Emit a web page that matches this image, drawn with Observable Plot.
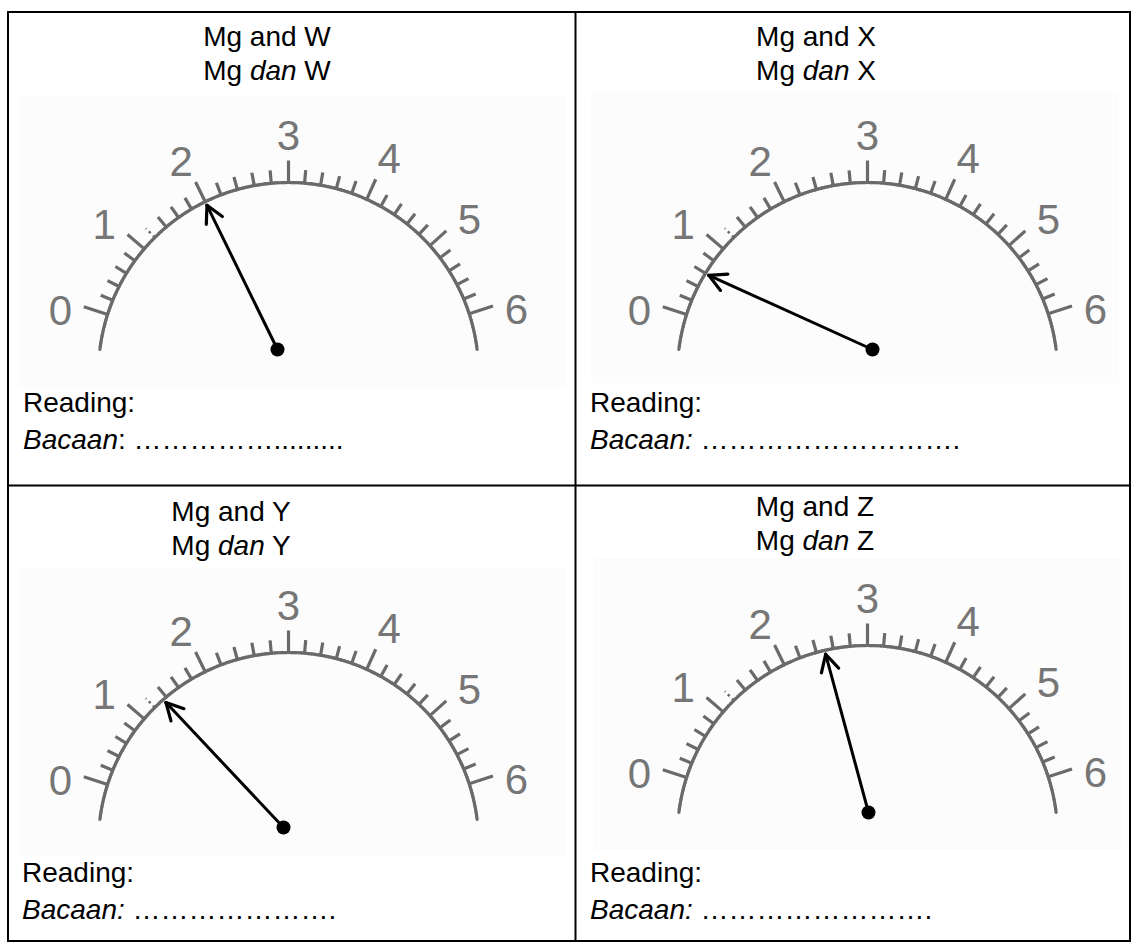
<!DOCTYPE html>
<html>
<head>
<meta charset="utf-8">
<script src="https://cdn.jsdelivr.net/npm/d3@7"></script>
<script src="https://cdn.jsdelivr.net/npm/@observablehq/plot@0.6"></script>
<style>
  html, body { margin: 0; padding: 0; background: #fff; }
  #page { position: relative; width: 1133px; height: 944px; overflow: hidden;
          font-family: "Liberation Sans", Arial, Helvetica, sans-serif; }
  #page svg { position: absolute; left: 0; top: 0; }
  .t { position: absolute; font-size: 28px; line-height: 36px; white-space: nowrap; color: #000; }
  .c { transform: translateX(-50%); }
</style>
</head>
<body>
<div id="page"></div>
<script>
// ---------------- data ----------------
const metals = ["W", "X", "Y", "Z"];                 // second metal paired with Mg
const readings = [2.0, 0.6, 1.35, 2.5];              // needle position on the 0–6 scale
const scaleMarks = [0, 1, 2, 3, 4, 5, 6];            // major scale values
const scaleLabels = ["0", "1", "2", "3", "4", "5", "6"];
const leaderDots = [
  "…………….........",
  "……………………….",
  "………………….",
  "…………………….",
];
const italicColon = [false, true, true, true];

// ---------------- layout (positions, not data) ----------------
const W = 1133, H = 944;
const cells = [
  {cx: 288, cy: 372, px: 277, py: 349, tX: 267, tY: 37,  rX: 23,  rY: 403, bg: [20, 95, 565, 387]},
  {cx: 867, cy: 372, px: 872, py: 349, tX: 816, tY: 37,  rX: 590, rY: 403, bg: [591, 93, 1119, 383]},
  {cx: 288, cy: 842, px: 283, py: 827, tX: 231, tY: 512, rX: 22,  rY: 873, bg: [20, 567, 565, 856]},
  {cx: 867, cy: 835, px: 868, py: 812, tX: 815, tY: 507, rX: 590, rY: 873, bg: [593, 558, 1121, 850]},
];
const R = 190;            // arc radius
const labelR = 236;       // label radius
const tipR = 186;         // needle tip radius
// printed scale of the meter (angle in degrees for each major value)
const angleOf = d3.scaleLinear().domain(scaleMarks).range([162.2, 139.4, 116.0, 90, 65.7, 41.9, 18.0]);
const labelAngle = v => 90 + (angleOf(v) - 90) * 1.04;
const rad = Math.PI / 180;
const pt = (c, a, r) => [c.cx + r * Math.cos(a * rad), c.cy - r * Math.sin(a * rad)];

// ---------------- derived geometry ----------------
const bgs = cells.map((c, i) => ({i, x1: c.bg[0], y1: c.bg[1], x2: c.bg[2], y2: c.bg[3]}));

const arcSegs = [];
cells.forEach((c, i) => {
  for (let a = 173; a > 7; a -= 1) {
    const [x1, y1] = pt(c, a, R);
    const [x2, y2] = pt(c, a - 1, R);
    arcSegs.push({i, x1, y1, x2, y2});
  }
});

const minorStep = 0.2;
const tickVals = d3.range(0, Math.round(6 / minorStep) + 1).map(k => +(k * minorStep).toFixed(1));
const ticks = [];
cells.forEach((c, i) => {
  tickVals.forEach(v => {
    const major = Number.isInteger(v);
    const len = (v === 0 || v === 6) ? 25 : major ? 22 : 13;
    const a = angleOf(v);
    const [x1, y1] = pt(c, a, R);
    const [x2, y2] = pt(c, a, R + len);
    ticks.push({i, v, x1, y1, x2, y2, dashed: v === 1.2});
  });
});

const labels = [];
cells.forEach((c, i) => {
  scaleMarks.forEach((v, k) => {
    const [x, y] = pt(c, labelAngle(v), labelR);
    labels.push({i, x, y, text: scaleLabels[k]});
  });
});

const needles = [], arms = [], pivots = [];
cells.forEach((c, i) => {
  const [tx, ty] = pt(c, angleOf(readings[i]), tipR);
  needles.push({i, x1: c.px, y1: c.py, x2: tx, y2: ty});
  pivots.push({i, x: c.px, y: c.py});
  const ux = c.px - tx, uy = c.py - ty, L = Math.hypot(ux, uy);
  const bx = ux / L, by = uy / L, h = 28 * rad, aL = 19;
  [h, -h].forEach(t => {
    const rx = bx * Math.cos(t) - by * Math.sin(t);
    const ry = bx * Math.sin(t) + by * Math.cos(t);
    arms.push({i, x1: tx, y1: ty, x2: tx + rx * aL, y2: ty + ry * aL});
  });
});

const frame = [{x1: 8, y1: 12, x2: 1130, y2: 941}];
const vDivider = [575], hDivider = [485];

const dialGray = "#6a6a6a";
const svg = Plot.plot({
  width: W, height: H, margin: 0,
  x: {domain: [0, W], range: [0, W], axis: null},
  y: {domain: [0, H], range: [0, H], axis: null},
  style: {background: "transparent", overflow: "visible"},
  marks: [
    Plot.rect(bgs, {x1: "x1", y1: "y1", x2: "x2", y2: "y2", fill: "#fcfcfc"}),
    Plot.link(arcSegs, {x1: "x1", y1: "y1", x2: "x2", y2: "y2", stroke: dialGray, strokeWidth: 3.2, strokeLinecap: "round", ariaLabel: "dial-arc"}),
    Plot.link(ticks.filter(d => !d.dashed), {x1: "x1", y1: "y1", x2: "x2", y2: "y2", stroke: dialGray, strokeWidth: 3.2, ariaLabel: "dial-ticks"}),
    Plot.link(ticks.filter(d => d.dashed), {x1: "x1", y1: "y1", x2: "x2", y2: "y2", stroke: dialGray, strokeWidth: 2.5, strokeDasharray: "2.5,3.5", ariaLabel: "dial-ticks2"}),
    Plot.text(labels, {x: "x", y: "y", text: "text", fontSize: 42, fill: "#767676",
      fontFamily: "Liberation Sans, Arial, sans-serif", textAnchor: "middle", lineAnchor: "middle", ariaLabel: "dial-labels"}),
    Plot.link(needles, {x1: "x1", y1: "y1", x2: "x2", y2: "y2", stroke: "#000", strokeWidth: 3, strokeLinecap: "round"}),
    Plot.link(arms, {x1: "x1", y1: "y1", x2: "x2", y2: "y2", stroke: "#000", strokeWidth: 3.2, strokeLinecap: "round"}),
    Plot.dot(pivots, {x: "x", y: "y", r: 7, fill: "#000"}),
    Plot.rect(frame, {x1: "x1", y1: "y1", x2: "x2", y2: "y2", fill: "none", stroke: "#000", strokeWidth: 2}),
    Plot.ruleX(vDivider, {y1: 12, y2: 941, stroke: "#000", strokeWidth: 2}),
    Plot.ruleY(hDivider, {x1: 8, x2: 1130, stroke: "#000", strokeWidth: 2}),
  ]
});

// soften the scanned dial slightly
const ns = "http://www.w3.org/2000/svg";
const defs = document.createElementNS(ns, "defs");
defs.innerHTML = '<filter id="soft" filterUnits="userSpaceOnUse" x="0" y="0" width="' + W + '" height="' + H + '"><feGaussianBlur stdDeviation="0.55"/></filter>';
svg.insertBefore(defs, svg.firstChild);
["dial-arc", "dial-ticks", "dial-ticks2", "dial-labels"].forEach(l => {
  const g = svg.querySelector('[aria-label="' + l + '"]');
  if (g) g.setAttribute("filter", "url(#soft)");
});

const page = document.getElementById("page");
page.appendChild(svg);

// ---------------- texts ----------------
function addText(html, x, y, centered) {
  const d = document.createElement("div");
  d.className = "t" + (centered ? " c" : "");
  d.style.left = x + "px";
  d.style.top = (y - 18) + "px";
  d.innerHTML = html;
  page.appendChild(d);
}
cells.forEach((c, i) => {
  addText("Mg and " + metals[i], c.tX, c.tY, true);
  addText("Mg <i>dan</i> " + metals[i], c.tX, c.tY + 34, true);
  addText("Reading:", c.rX, c.rY, false);
  addText((italicColon[i] ? "<i>Bacaan:</i> " : "<i>Bacaan</i>: ") + leaderDots[i], c.rX, c.rY + 37, false);
});
</script>
</body>
</html>
